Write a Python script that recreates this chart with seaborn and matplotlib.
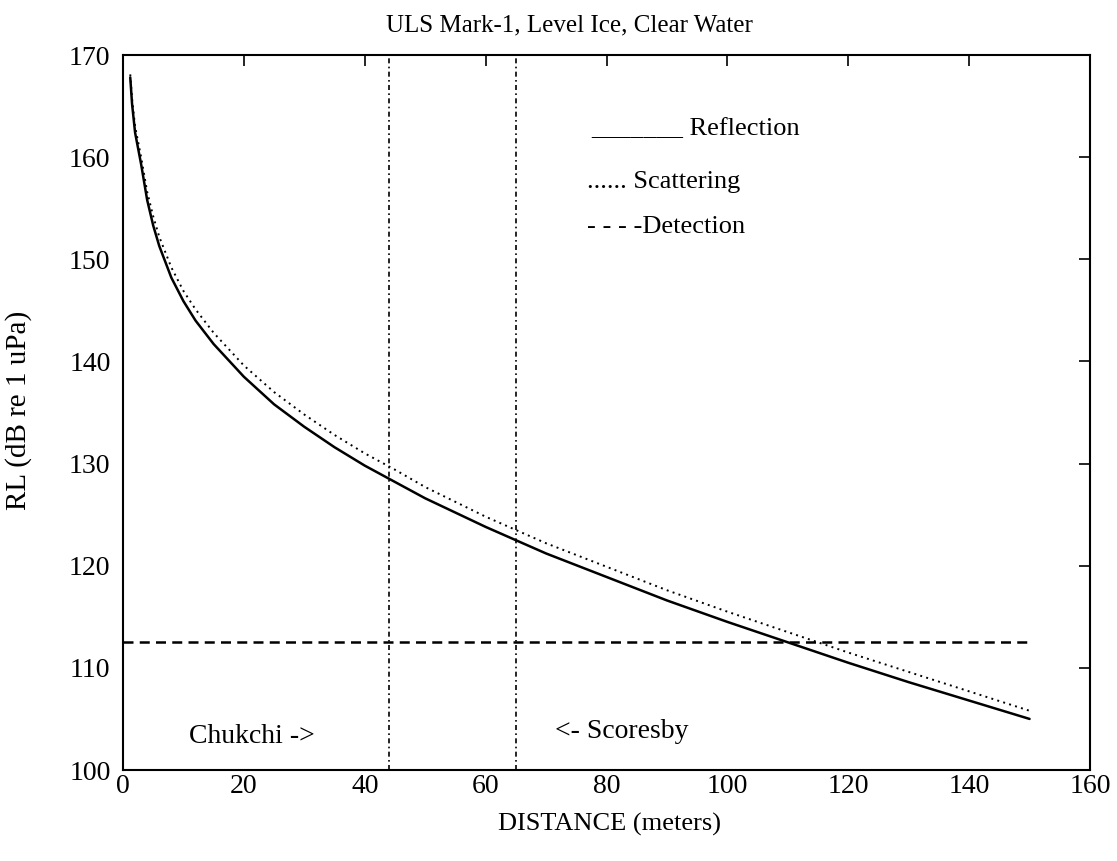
import seaborn as sns
import numpy as np
import pandas as pd
import matplotlib.pyplot as plt

# values
distance = [1.2, 1.5, 2, 3, 4, 5, 6, 8, 10, 12, 15, 20, 25, 30, 35, 40, 45,
            50, 60, 70, 80, 90, 100, 110, 120, 130, 140, 150]
reflection = [167.8, 165.2, 162.4, 159.3, 155.8, 153.3, 151.3, 148.2, 145.9,
              144.0, 141.7, 138.5, 135.8, 133.6, 131.6, 129.8, 128.2, 126.6,
              123.8, 121.2, 118.9, 116.6, 114.5, 112.5, 110.5, 108.6, 106.8, 105.0]
scattering = [168.1, 165.7, 163.0, 160.0, 156.6, 154.2, 152.2, 149.2, 146.9,
              145.1, 142.8, 139.6, 137.0, 134.8, 132.8, 131.0, 129.4, 127.7,
              124.8, 122.2, 119.9, 117.6, 115.5, 113.5, 111.5, 109.6, 107.7, 105.8]
detection_x = [0, 150]
detection_y = [112.5, 112.5]
site_x = [44, 65]
site_names = ["Chukchi ->", "<- Scoresby"]

sns.set_theme(style="white")
plt.rcParams['font.family'] = ['Liberation Serif', 'DejaVu Serif']
plt.rcParams['text.color'] = 'black'
plt.rcParams['axes.labelcolor'] = 'black'
plt.rcParams['xtick.color'] = 'black'
plt.rcParams['ytick.color'] = 'black'
plt.rcParams['xtick.direction'] = 'in'
plt.rcParams['ytick.direction'] = 'in'

df = pd.DataFrame({'distance': distance, 'reflection': reflection,
                   'scattering': scattering})

fig = plt.figure(figsize=(11.17, 8.61), dpi=100)
ax = fig.add_axes([123 / 1117, 1 - 770 / 861, 967 / 1117, 715 / 861])

sns.lineplot(x='distance', y='reflection', data=df, color='black',
             linewidth=1.8, ax=ax)
sns.lineplot(x='distance', y='scattering', data=df, color='black',
             linewidth=1.4, linestyle=(0, (1, 2.2)), ax=ax)
sns.lineplot(x=detection_x, y=detection_y, color='black', linewidth=1.8,
             linestyle=(0, (4, 2.5)), ax=ax)
for sx in site_x:
    ax.axvline(sx, color='black', linewidth=1.2, linestyle=(0, (3, 2, 1, 2)))

ax.text(10.9, 103.3, site_names[0], fontsize=20, va='center', ha='left')
ax.text(71.5, 103.8, site_names[1], fontsize=20, va='center', ha='left')

# legend is typed text in the original
ax.text(77.5, 162.8, "_______ Reflection", fontsize=19, va='center', ha='left')
ax.text(76.8, 157.6, "...... Scattering", fontsize=19, va='center', ha='left')
ax.text(76.8, 153.2, "- - - -Detection", fontsize=19, va='center', ha='left')

ax.set_xlim(0, 160)
ax.set_ylim(100, 170)
ax.set_xticks(np.arange(0, 161, 20))
ax.set_yticks(np.arange(100, 171, 10))
ax.tick_params(axis='both', labelsize=20, length=8, width=1.2, color='black',
               top=True, right=True)
ax.tick_params(axis='x', pad=3)
ax.tick_params(axis='y', pad=9)
for s in ax.spines.values():
    s.set_color('black')
    s.set_linewidth(1.5)

ax.set_xlabel("DISTANCE (meters)", fontsize=19)
ax.xaxis.set_label_coords(0.503, -0.06)
ax.set_ylabel("RL (dB re 1 uPa)", fontsize=21)
ax.yaxis.set_label_coords(-0.094, 0.503)
fig.text(569 / 1117, 1 - 25 / 861, "ULS Mark-1, Level Ice, Clear Water",
         fontsize=18, ha='center', va='center')

fig.savefig('out.png', dpi=100)
